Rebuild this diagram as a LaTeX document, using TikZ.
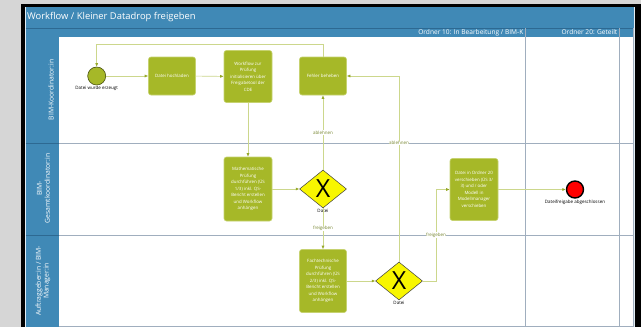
\documentclass[tikz,border=0pt]{standalone}
\usepackage{fontspec}
\setmainfont{Open Sans}
\usetikzlibrary{shapes.geometric,arrows.meta}
\definecolor{bgray}{RGB}{214,214,214}
\definecolor{laneblue}{RGB}{64,137,182}
\definecolor{lanedark}{RGB}{45,105,146}
\definecolor{gridline}{RGB}{160,174,190}
\definecolor{taskfill}{RGB}{166,184,40}
\definecolor{taskedge}{RGB}{198,210,112}
\definecolor{flowline}{RGB}{204,215,140}
\definecolor{flowtip}{RGB}{150,168,40}
\definecolor{flowtext}{RGB}{120,135,50}
\definecolor{gwfill}{RGB}{248,246,0}
\begin{document}
\begin{tikzpicture}[x=1pt,y=-1pt,
	task/.style={draw=taskedge,fill=taskfill,rounded corners=2.5pt,line width=.6pt,
		text=white,align=center,inner sep=1pt,font=\fontsize{4.4}{6.5}\selectfont},
	gateway/.style={diamond,draw=black!75,fill=gwfill,line width=.5pt,inner sep=0pt,
		minimum width=47pt,minimum height=38pt,font=\fontsize{25}{25}\selectfont},
	event/.style={circle,inner sep=0pt,minimum size=18pt},
	evtext/.style={font=\fontsize{4.5}{5}\selectfont,inner sep=1pt},
	flow/.style={draw=flowline,line width=.6pt,-{Latex[length=3.5pt,width=3pt,color=flowtip]}},
	flowlbl/.style={font=\fontsize{4.5}{5}\selectfont,text=flowtext,fill=white,inner sep=.5pt},
	lanelbl/.style={rotate=90,text=white,align=center,font=\fontsize{6.8}{7.8}\selectfont},
	headlbl/.style={text=white,font=\fontsize{6.6}{7}\selectfont,inner sep=0pt}]
	\useasboundingbox (0,0) rectangle (641,327);
	% frame and pool
	\fill[bgray] (0,0) rectangle (641,327);
	\fill[black] (21,4) rectangle (641,327);
	\fill[white!85!laneblue] (24.5,6.5) rectangle (635,327);
	\fill[laneblue] (25.5,7) rectangle (634,36.5);
	\fill[laneblue] (25.5,36.5) rectangle (59,327);
	\fill[white] (59,36.5) rectangle (633,327);
	\draw[lanedark,line width=.6pt] (25.5,27.8)--(634,27.8);
	\node[text=white,anchor=west,font=\fontsize{9.4}{10}\selectfont,inner sep=0pt] (titel) at (27,17) {Workflow / Kleiner Datadrop freigeben};
	\node[headlbl,anchor=east] (ordner10) at (523.5,32.3) {Ordner 10: In Bearbeitung / BIM-K};
	\node[headlbl,anchor=east] (ordner20) at (617.5,32.3) {Ordner 20: Geteilt};
	% lanes
	\draw[gridline,line width=.8pt] (59,143)--(633,143);
	\draw[gridline,line width=.8pt] (59,235)--(633,235);
	\draw[gridline,line width=.8pt] (59,326.5)--(633,326.5);
	\draw[lanedark,line width=.8pt] (25.5,143)--(59,143);
	\draw[lanedark,line width=.8pt] (25.5,235)--(59,235);
	\draw[gridline,line width=.7pt] (525,28)--(525,327);
	\draw[gridline,line width=.7pt] (619,28)--(619,327);
	\draw[gridline,line width=.7pt] (633,28)--(633,327);
	\node[lanelbl] (koord) at (51,90) {BIM-Koordinator:in};
	\node[lanelbl] (gesamt) at (43.5,188.5) {BIM-\\Gesamtkoordinator:in};
	\node[lanelbl] (auftrag) at (43,281) {Auftraggeber:in / BIM-\\Manager:in};
	% events, tasks, gateways
	\node[event,draw=black!55!taskfill,fill=taskfill,line width=.6pt] (start) at (96.7,76) {};
	\node[evtext,below] (starttxt) at (start.south) {Datei wurde erzeugt};
	\node[task,minimum width=47pt,minimum height=38pt] (hochladen) at (172,76) {Datei hochladen};
	\node[task,minimum width=48pt,minimum height=52pt] (workflow) at (248,76.5) {Workflow zur\\Prüfung\\initialisieren über\\Freigabetool der\\CDE};
	\node[task,minimum width=47pt,minimum height=38pt] (fehler) at (323,76) {Fehler beheben};
	\node[task,minimum width=48pt,minimum height=64pt] (mathe) at (248,189) {Mathematische\\Prüfung\\durchführen (ÜS\\1/3) inkl. QS-\\Bericht erstellen\\und Workflow\\anhängen};
	\node[gateway] (gw1) at (323,189) {X};
	\node[evtext,below] (gw1txt) at (gw1.south) {Datei};
	\node[task,minimum width=47pt,minimum height=63pt] (fach) at (323,281) {Fachtechnische\\Prüfung\\durchführen (ÜS\\2/3) inkl. QS-\\Bericht erstellen\\und Workflow\\anhängen};
	\node[gateway] (gw2) at (399,281) {X};
	\node[evtext,below] (gw2txt) at (gw2.south) {Datei};
	\node[task,minimum width=48pt,minimum height=62pt] (verschieben) at (474,189.5) {Datei in Ordner 20\\verschieben (ÜS 3/\\3) und / oder\\Modell in\\Modellmanager\\verschieben};
	\node[event,draw=black,fill=red,line width=1.4pt,minimum size=17pt] (ende) at (575,189.5) {};
	\node[evtext,below] (endetxt) at (ende.south) {Dateifreigabe abgeschlossen};
	% flows
	\coordinate (ruecklauf) at (323,44);
	\coordinate (knick) at (436,281);
	\draw[flow] (start) -- (hochladen);
	\draw[flow] (hochladen) -- (workflow);
	\draw[flow] (workflow) -- (mathe);
	\draw[flow] (mathe) -- (gw1);
	\draw[flow] (fehler.north) -- (ruecklauf) -| (start.north);
	\draw[flow] (gw1.north) -- node[flowlbl,pos=.5]{ablehnen} (fehler.south);
	\draw[flow] (gw1.south) -- node[flowlbl,pos=.5]{freigeben} (fach.north);
	\draw[flow] (fach) -- (gw2);
	\draw[flow] (gw2.north) |- node[flowlbl,pos=.32]{ablehnen} (fehler.east);
	\draw[flow] (gw2.east) -- (knick) |- node[flowlbl,pos=.25]{freigeben} (verschieben.west);
	\draw[flow] (verschieben) -- (ende);
\end{tikzpicture}
\end{document}
